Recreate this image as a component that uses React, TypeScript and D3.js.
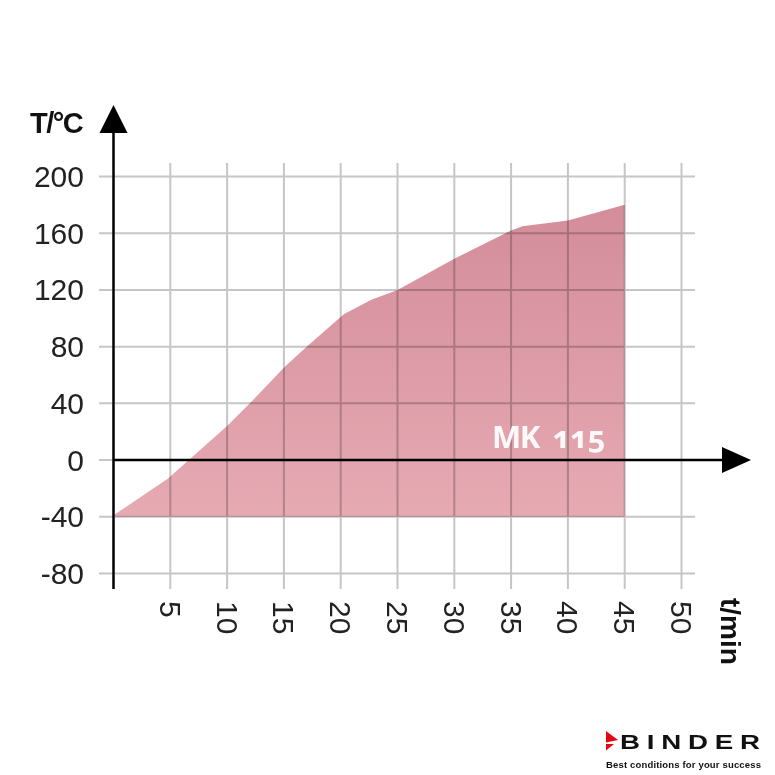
import React from "react";
import * as d3 from "d3";

const times = [0, 4.8, 10, 12, 15.1, 17, 20.3, 22.7, 25, 30, 35, 36, 40, 45];
const temps = [-39, -13, 24, 40, 66, 80, 103, 113, 120, 142, 162, 165, 169, 180];
const xTicks = [5, 10, 15, 20, 25, 30, 35, 40, 45, 50];
const yTicks = [-80, -40, 0, 40, 80, 120, 160, 200];
const seriesLabel = "MK";
const seriesNumber = "115";
const yTitle = "T/°C";
const xTitle = "t/min";
const brand = "BINDER";
const tagline = "Best conditions for your success";

export default function App() {
  const W = 775, H = 775;
  const x = d3.scaleLinear().domain([0, 50]).range([113.5, 681.5]);
  const y = d3.scaleLinear().domain([-80, 200]).range([573.5, 176.5]);
  const data = times.map((t, i) => ({ t, T: temps[i] }));
  const area = d3.area<{ t: number; T: number }>()
    .x((d) => x(d.t))
    .y0(y(-40))
    .y1((d) => y(d.T))
    .curve(d3.curveLinear);
  const font = "'Liberation Sans', Arial, Helvetica, sans-serif";
  const gridColor = "#c6c6c6";
  const axisX0 = x(0);
  const axisY0 = y(0);
  return (
    <svg width={W} height={H} style={{ position: "absolute", left: 0, top: 0, display: "block", background: "#fff" }}>
      <defs>
        <linearGradient id="fillGrad" x1="0" y1={y(200)} x2="0" y2={y(-40)} gradientUnits="userSpaceOnUse">
          <stop offset="0" stopColor="#d28a98" />
          <stop offset="1" stopColor="#e6aab3" />
        </linearGradient>
      </defs>
      <rect width={W} height={H} fill="#fff" />
      <path d={area(data) || ""} fill="url(#fillGrad)" />
      <g style={{ mixBlendMode: "multiply" }} stroke={gridColor} strokeWidth={2}>
        {yTicks.map((v) => (
          <line key={"h" + v} x1={99} x2={695} y1={y(v)} y2={y(v)} />
        ))}
        {xTicks.map((v) => (
          <line key={"v" + v} x1={x(v)} x2={x(v)} y1={163} y2={589} />
        ))}
      </g>
      <line x1={axisX0} x2={axisX0} y1={130} y2={589} stroke="#000" strokeWidth={2.5} />
      <polygon points={`${axisX0},105 ${axisX0 - 14},133 ${axisX0 + 14},133`} fill="#000" />
      <line x1={axisX0} x2={724} y1={axisY0} y2={axisY0} stroke="#000" strokeWidth={2.5} />
      <polygon points={`751,${axisY0} 722,${axisY0 - 13} 722,${axisY0 + 13}`} fill="#000" />
      {yTicks.map((v) => (
        <text key={"yl" + v} x={84} y={y(v)} dy="0.35em" textAnchor="end" fontFamily={font} fontSize={30} fill="#222">
          {v}
        </text>
      ))}
      {xTicks.map((v) => (
        <text key={"xl" + v} transform={`translate(${x(v)},601) rotate(90)`} dy="0.35em" textAnchor="start" fontFamily={font} fontSize={30} fill="#222">
          {v}
        </text>
      ))}
      <text x={30} y={133} fontFamily={font} fontWeight="bold" fontSize={29} letterSpacing={-1.5} fill="#111">
        {yTitle}
      </text>
      <text transform={`translate(731,598) rotate(90)`} dy="0.35em" fontFamily={font} fontWeight="bold" fontSize={28} fill="#111">
        {xTitle}
      </text>
      <text x={492} y={448} fontFamily="'Open Sans', sans-serif" fontWeight={700} fontSize={31} fill="#fff" fillOpacity={0.93} letterSpacing={-1.5}>
        {seriesLabel}
        <tspan dx={14} letterSpacing={-0.5} style={{ fontVariantNumeric: "oldstyle-nums" }}>{seriesNumber}</tspan>
      </text>
      <polygon points="606,731 618,740 606,742.5" fill="#e30613" />
      <polygon points="606,744 614,744 606,750.5" fill="#e30613" />
      <g transform="translate(620,748.5) scale(1.32,1)">
        <text x={0} y={0} fontFamily={font} fontWeight="bold" fontSize={21} textLength={106} lengthAdjust="spacing" fill="#111">
          {brand}
        </text>
      </g>
      <text x={606} y={768} fontFamily={font} fontWeight="bold" fontSize={9.5} textLength={155} lengthAdjust="spacing" fill="#111">
        {tagline}
      </text>
    </svg>
  );
}
